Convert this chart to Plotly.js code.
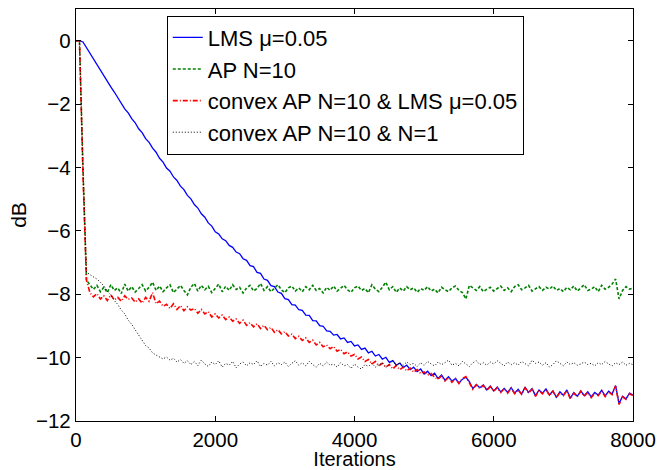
<!DOCTYPE html>
<html>
<head>
<meta charset="utf-8">
<script src="https://cdn.plot.ly/plotly-3.0.1.min.js"></script>
<style>html,body{margin:0;padding:0;background:#fff;}#chart{width:659px;height:470px;}</style>
</head>
<body>
<div id="chart"></div>
<script>
const iterations = [
0,50,100,150,200,250,300,350,400,450,
500,550,600,650,700,750,800,850,900,950,
1000,1050,1100,1150,1200,1250,1300,1350,1400,1450,
1500,1550,1600,1650,1700,1750,1800,1850,1900,1950,
2000,2050,2100,2150,2200,2250,2300,2350,2400,2450,
2500,2550,2600,2650,2700,2750,2800,2850,2900,2950,
3000,3050,3100,3150,3200,3250,3300,3350,3400,3450,
3500,3550,3600,3650,3700,3750,3800,3850,3900,3950,
4000,4050,4100,4150,4200,4250,4300,4350,4400,4450,
4500,4550,4600,4650,4700,4750,4800,4850,4900,4950,
5000,5050,5100,5150,5200,5250,5300,5350,5400,5450,
5500,5550,5600,5650,5700,5750,5800,5850,5900,5950,
6000,6050,6100,6150,6200,6250,6300,6350,6400,6450,
6500,6550,6600,6650,6700,6750,6800,6850,6900,6950,
7000,7050,7100,7150,7200,7250,7300,7350,7400,7450,
7500,7550,7600,7650,7700,7750,7800,7850,7900,7950,
8000];

const lmsDb = [
0, 0, -0.04, -0.22, -0.41, -0.57, -0.76, -0.92, -1.11, -1.27,
-1.46, -1.62, -1.81, -1.97, -2.15, -2.28, -2.46, -2.59, -2.78, -2.90,
-3.09, -3.21, -3.39, -3.52, -3.71, -3.83, -4.02, -4.12, -4.30, -4.41,
-4.59, -4.70, -4.88, -4.99, -5.17, -5.28, -5.46, -5.57, -5.75, -5.85,
-6.03, -6.10, -6.25, -6.31, -6.46, -6.52, -6.67, -6.72, -6.88, -6.93,
-7.10, -7.13, -7.31, -7.34, -7.52, -7.56, -7.73, -7.76, -7.93, -7.97,
-8.14, -8.17, -8.33, -8.34, -8.49, -8.51, -8.66, -8.67, -8.83, -8.84,
-8.99, -9.01, -9.16, -9.17, -9.29, -9.27, -9.41, -9.38, -9.52, -9.49,
-9.63, -9.60, -9.74, -9.70, -9.85, -9.80, -9.95, -9.90, -10.05, -9.99,
-10.15, -10.09, -10.24, -10.17, -10.31, -10.24, -10.38, -10.30, -10.44, -10.36,
-10.52, -10.43, -10.57, -10.49, -10.66, -10.55, -10.71, -10.60, -10.74, -10.66,
-10.80, -10.68, -10.62, -10.76, -10.98, -10.85, -10.95, -10.86, -11.02, -10.90,
-11.05, -10.93, -11.08, -10.97, -11.10, -10.95, -11.12, -11.00, -11.15, -10.93,
-11.10, -10.98, -11.20, -11.02, -11.12, -10.99, -11.18, -11.05, -11.25, -11.08,
-11.19, -11.02, -11.28, -11.10, -11.22, -11.05, -11.20, -11.08, -11.24, -11.10,
-11.18, -11.03, -11.21, -11.06, -11.15, -10.88, -11.45, -11.22, -11.30, -11.12,
-11.18];

const apDb = [
0, 0, -4.0, -7.55, -7.70, -7.85, -7.72, -7.92, -7.78, -7.95,
-7.70, -7.88, -7.80, -7.98, -7.68, -7.90, -7.76, -7.93, -7.82, -7.70,
-7.90, -7.78, -7.62, -7.88, -7.74, -7.92, -7.80, -7.70, -7.95, -7.82,
-7.72, -7.88, -8.02, -7.78, -7.66, -7.90, -7.72, -7.86, -7.75, -7.95,
-7.80, -7.68, -7.92, -7.75, -7.88, -7.70, -7.85, -7.78, -7.96, -7.80,
-7.72, -7.90, -7.82, -7.66, -7.88, -7.76, -7.92, -7.80, -7.70, -7.86,
-7.95, -7.80, -7.74, -7.90, -7.80, -7.92, -7.76, -7.86, -7.72, -7.88,
-7.82, -7.96, -7.78, -7.88, -7.74, -7.90, -7.80, -7.72, -7.86, -7.94,
-7.80, -7.74, -7.88, -7.82, -7.95, -7.70, -7.84, -7.92, -7.78, -7.62,
-7.86, -7.76, -7.94, -7.80, -7.90, -7.76, -7.86, -7.80, -7.94, -7.82,
-7.88, -7.76, -7.90, -7.84, -7.96, -7.78, -7.86, -7.92, -7.80, -7.74,
-7.88, -7.95, -8.15, -7.72, -7.80, -7.88, -7.76, -7.92, -7.84, -7.78,
-7.90, -7.82, -7.74, -7.88, -7.80, -7.92, -7.76, -7.70, -7.86, -7.80,
-7.72, -7.90, -7.82, -7.76, -7.88, -7.78, -7.84, -7.74, -7.88, -7.82,
-7.92, -7.78, -7.86, -7.74, -7.90, -7.80, -7.70, -7.88, -7.84, -7.76,
-7.92, -7.72, -7.84, -7.78, -7.68, -7.52, -8.15, -7.88, -7.76, -7.84,
-7.80];

const convexApLmsDb = [
0, 0, -4.2, -7.55, -7.95, -8.08, -7.98, -8.15, -8.05, -8.20,
-8.02, -8.18, -8.10, -8.22, -8.05, -8.16, -8.12, -8.25, -8.15, -8.28,
-8.10, -8.22, -7.95, -8.30, -8.22, -8.38, -8.32, -8.45, -8.30, -8.48,
-8.36, -8.52, -8.40, -8.50, -8.45, -8.60, -8.48, -8.62, -8.55, -8.72,
-8.62, -8.75, -8.66, -8.80, -8.72, -8.85, -8.78, -8.92, -8.82, -8.98,
-8.90, -9.03, -8.93, -9.08, -8.98, -9.12, -9.05, -9.20, -9.12, -9.25,
-9.18, -9.32, -9.26, -9.40, -9.33, -9.46, -9.38, -9.52, -9.45, -9.60,
-9.52, -9.66, -9.60, -9.72, -9.65, -9.80, -9.74, -9.88, -9.82, -9.95,
-9.90, -10.04, -9.98, -10.12, -10.06, -10.20, -10.12, -10.26, -10.18, -10.30,
-10.22, -10.36, -10.25, -10.38, -10.30, -10.42, -10.33, -10.46, -10.38, -10.50,
-10.45, -10.55, -10.50, -10.62, -10.68, -10.58, -10.74, -10.62, -10.78, -10.66,
-10.82, -10.66, -10.60, -10.78, -11.00, -10.86, -10.97, -10.88, -11.03, -10.92,
-11.06, -10.95, -11.10, -10.98, -11.12, -10.96, -11.14, -11.02, -11.16, -10.95,
-11.12, -11.00, -11.22, -11.04, -11.14, -11.00, -11.20, -11.06, -11.27, -11.10,
-11.20, -11.04, -11.30, -11.12, -11.24, -11.06, -11.22, -11.10, -11.26, -11.12,
-11.20, -11.05, -11.23, -11.08, -11.17, -10.90, -11.48, -11.24, -11.32, -11.14,
-11.20];

const convexApN1Db = [
0, 0, -4.0, -7.30, -7.38, -7.45, -7.52, -7.62, -7.74, -7.90,
-8.02, -8.20, -8.32, -8.50, -8.62, -8.82, -8.95, -9.12, -9.28, -9.48,
-9.62, -9.70, -9.85, -9.92, -9.98, -10.04, -9.98, -10.08, -10.02, -10.14,
-10.06, -10.18, -10.10, -10.22, -10.12, -10.25, -10.08, -10.20, -10.28, -10.14,
-10.22, -10.10, -10.30, -10.18, -10.24, -10.12, -10.32, -10.20, -10.14, -10.26,
-10.16, -10.22, -10.10, -10.28, -10.18, -10.24, -10.12, -10.26, -10.16, -10.22,
-10.14, -10.28, -10.18, -10.10, -10.24, -10.16, -10.26, -10.12, -10.22, -10.30,
-10.18, -10.26, -10.14, -10.24, -10.20, -10.30, -10.16, -10.26, -10.22, -10.34,
-10.20, -10.30, -10.36, -10.22, -10.28, -10.18, -10.30, -10.24, -10.16, -10.32,
-10.22, -10.10, -10.26, -10.16, -10.24, -10.14, -10.22, -10.18, -10.28, -10.16,
-10.24, -10.12, -10.20, -10.26, -10.14, -10.22, -10.16, -10.08, -10.24, -10.18,
-10.26, -10.12, -10.20, -10.28, -10.16, -10.10, -10.22, -10.16, -10.24, -10.14,
-10.20, -10.10, -10.18, -10.26, -10.14, -10.22, -10.16, -10.24, -10.12, -10.20,
-10.26, -10.08, -10.18, -10.14, -10.24, -10.16, -10.30, -10.22, -10.10, -10.18,
-10.26, -10.14, -10.22, -10.16, -10.24, -10.20, -10.14, -10.22, -10.18, -10.26,
-10.16, -10.22, -10.12, -10.20, -10.26, -10.16, -10.22, -10.14, -10.24, -10.18,
-10.22];

const seriesNames = ["LMS μ=0.05", "AP N=10", "convex AP N=10 & LMS μ=0.05", "convex AP N=10 & N=1"];
const xTicks = [0, 2000, 4000, 6000, 8000];
const yTicks = [-12, -10, -8, -6, -4, -2, 0];

const FONT = "'Liberation Sans', Arial, Helvetica, sans-serif";

const traces = [
  {x: iterations, y: lmsDb, name: seriesNames[0], mode: "lines", line: {color: "#0000ff", width: 1.3, dash: "solid"}},
  {x: iterations, y: apDb, name: seriesNames[1], mode: "lines", line: {color: "#008000", width: 1.6, dash: "3px,2px"}},
  {x: iterations, y: convexApLmsDb, name: seriesNames[2], mode: "lines", line: {color: "#ff0000", width: 1.6, dash: "5px,2px,1px,2px"}},
  {x: iterations, y: convexApN1Db, name: seriesNames[3], mode: "lines", line: {color: "#000000", width: 1, dash: "1px,2px"}}
];

const axisCommon = {
  showline: true, linecolor: "#000", linewidth: 1.2, mirror: "ticks",
  ticks: "inside", ticklen: 5, tickwidth: 1, tickcolor: "#000",
  showgrid: false, zeroline: false,
  tickfont: {family: FONT, size: 20.5, color: "#000"}
};

const layout = {
  width: 659, height: 470,
  margin: {l: 76, r: 26, t: 9, b: 49},
  paper_bgcolor: "#fff", plot_bgcolor: "#fff",
  font: {family: FONT, color: "#000"},
  showlegend: true,
  xaxis: Object.assign({}, axisCommon, {
    range: [0, 8000], tickvals: xTicks, ticktext: xTicks.map(String),
    title: {text: "Iterations", font: {family: FONT, size: 20}, standoff: 5}
  }),
  yaxis: Object.assign({}, axisCommon, {
    range: [-12, 1], tickvals: yTicks,
    title: {text: "dB", font: {family: FONT, size: 21}, standoff: 3}
  }),
  legend: {
    x: 0.163, y: 0.984, xanchor: "left", yanchor: "top",
    bgcolor: "#fff", bordercolor: "#000", borderwidth: 1,
    font: {family: FONT, size: 22, color: "#000"}
  }
};

Plotly.newPlot("chart", traces, layout, {displayModeBar: false, staticPlot: true});
</script>
</body>
</html>
